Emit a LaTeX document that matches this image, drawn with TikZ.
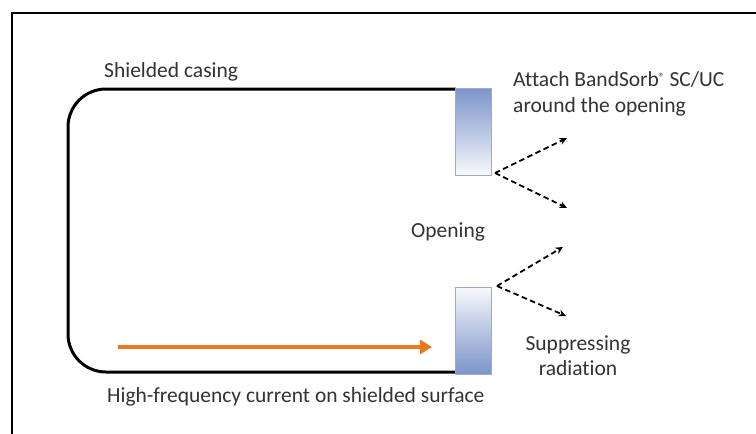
\documentclass[tikz,border=0pt]{standalone}
\usepackage{fontspec}
\setmainfont[Ligatures=NoCommon]{Carlito}
\usetikzlibrary{arrows.meta}
\definecolor{blockblue}{HTML}{7D95CC}
\definecolor{blockedge}{HTML}{9AAAC8}
\definecolor{txt}{HTML}{333333}
\definecolor{curr}{HTML}{E8791E}
\tikzset{
  lbl/.style={text=txt, font=\fontsize{21.5}{26}\selectfont, inner sep=0pt},
  blocktop/.style={draw=blockedge, line width=0.8pt, minimum width=36pt, minimum height=87pt, inner sep=0pt,
     top color=blockblue, bottom color=blockblue!5, middle color=blockblue!55},
  blockbot/.style={draw=blockedge, line width=0.8pt, minimum width=36pt, minimum height=87pt, inner sep=0pt,
     top color=blockblue!5, bottom color=blockblue, middle color=blockblue!55},
  rad/.style={dashed, dash pattern=on 5.5pt off 3.5pt, line width=1.8pt, -{Stealth[length=7.5pt,width=7pt]}},
  casing/.style={line width=3pt, rounded corners=38pt},
}
\begin{document}
\begin{tikzpicture}[x=1pt,y=-1pt]
\useasboundingbox (0,0) rectangle (756,434);
\fill[white] (0,0) rectangle (756,434);
\draw[line width=2.2pt] (12,440) -- (12,13) -- (760,13);
% casing
\draw[casing] (456,89) -- (68,89) -- (68,372) -- (456,372);
% blocks
\node[blocktop] (topb) at (473,131.5) {};
\node[blockbot] (botb) at (473,330.5) {};
% radiation arrows
\coordinate (t0) at (495,173);
\coordinate (t1) at (567,138);
\coordinate (t2) at (567,208);
\coordinate (b0) at (497,286);
\coordinate (b1) at (563,247);
\coordinate (b2) at (566,316);
\draw[rad] (t0) -- (t1);
\draw[rad] (t0) -- (t2);
\draw[rad] (b0) -- (b1);
\draw[rad] (b0) -- (b2);
% current arrow
\coordinate (c0) at (118,347);
\coordinate (c1) at (432,347);
\draw[curr, line width=4pt, -{Triangle[length=12pt,width=14pt]}] (c0) -- (c1);
% labels
\node[lbl, anchor=base west] (casinglbl) at (104,77) {Shielded casing};
\node[lbl, anchor=base west] (attach1) at (513,86) {Attach BandSorb\kern-0.5pt\raisebox{5pt}{\fontsize{12}{12}\selectfont®} SC/UC};
\node[lbl, anchor=base west] (attach2) at (513,112) {around the opening};
\node[lbl, anchor=base] (opening) at (448,237) {Opening};
\node[lbl, anchor=base] (supp1) at (578,350) {Suppressing};
\node[lbl, anchor=base] (supp2) at (578,375) {radiation};
\node[lbl, anchor=base west] (hf) at (107,402) {High-frequency current on shielded surface};
\end{tikzpicture}
\end{document}
